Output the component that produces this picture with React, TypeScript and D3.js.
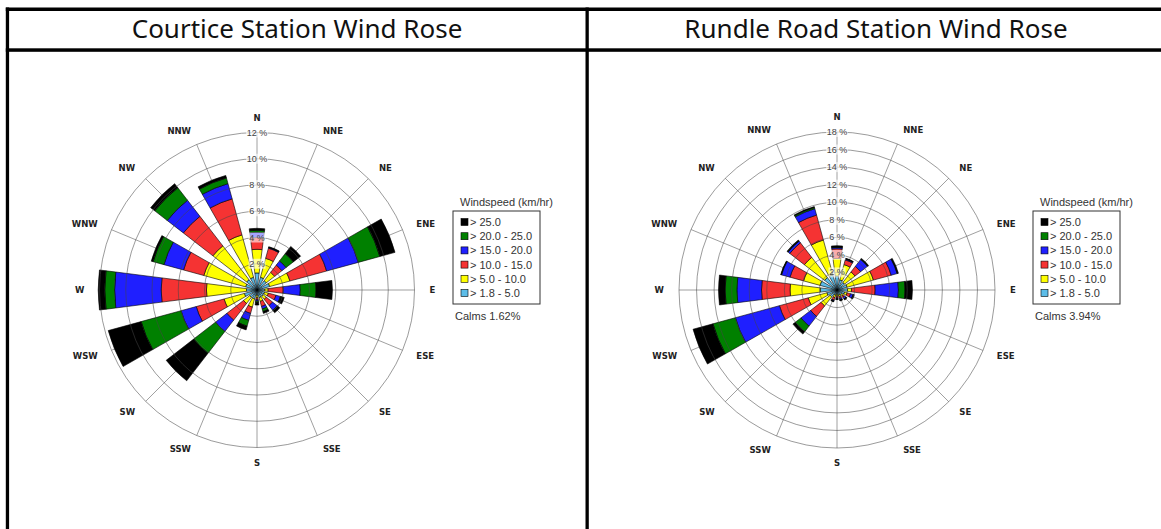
import React from "react";
import * as d3 from "d3";

const directions = ["N", "NNE", "NE", "ENE", "E", "ESE", "SE", "SSE", "S", "SSW", "SW", "WSW", "W", "WNW", "NW", "NNW"];
const speedBins = ["> 1.8 - 5.0", "> 5.0 - 10.0", "> 10.0 - 15.0", "> 15.0 - 20.0", "> 20.0 - 25.0", "> 25.0"];
const binColors = ["#5dbde8", "#ffff00", "#f53333", "#1f1fff", "#008000", "#000000"];

// Courtice station: frequency (%) per direction for each speed bin
const courtice_1_8_5 = [1.3, 1.0, 0.9, 1.0, 0.6, 0.6, 0.6, 0.6, 0.4, 0.7, 0.7, 1.0, 0.8, 0.9, 1.0, 1.0];
const courtice_5_10 = [1.8, 1.5, 0.8, 1.6, 0.25, 0.3, 0.3, 0.3, 0.2, 0.65, 0.6, 1.6, 3.05, 3.3, 3.25, 3.35];
const courtice_10_15 = [0.9, 0.8, 0.7, 2.9, 1.15, 0.6, 0.6, 0.4, 0.15, 0.5, 1.6, 2.2, 3.45, 1.6, 2.85, 2.85];
const courtice_15_20 = [0.4, 0.05, 0.4, 2.5, 1.3, 0.35, 0.45, 0.2, 0.1, 0.55, 1.1, 1.2, 3.55, 1.55, 1.55, 1.2];
const courtice_20_25 = [0.15, 0.02, 0.7, 1.7, 1.2, 0.05, 0.05, 0.2, 0.1, 0.45, 2.1, 3.15, 0.75, 0.85, 1.2, 0.45];
const courtice_25 = [0.15, 0.05, 0.7, 1.2, 1.25, 0.25, 0.2, 0.15, 0.2, 0.3, 2.65, 2.6, 0.5, 0.15, 0.4, 0.2];

// Rundle Road station
const rundle_1_8_5 = [1.6, 1.2, 1.1, 1.2, 1.2, 0.9, 0.7, 0.6, 0.5, 0.6, 1.0, 1.2, 1.9, 2.0, 1.8, 1.8];
const rundle_5_10 = [2.0, 1.8, 1.5, 3.1, 0.45, 0.3, 0.2, 0.2, 0.2, 0.3, 1.3, 2.2, 3.45, 1.95, 2.9, 4.1];
const rundle_10_15 = [1.1, 0.55, 0.8, 2.1, 2.7, 0.4, 0.2, 0.2, 0.2, 0.3, 1.5, 3.4, 3.25, 1.6, 2.1, 2.95];
const rundle_15_20 = [0.15, 0.1, 1.0, 0.7, 2.65, 0.3, 0.2, 0.15, 0.1, 0.1, 1.4, 5.2, 2.8, 1.0, 0.25, 0.75];
const rundle_20_25 = [0.05, 0.05, 0.05, 0.05, 0.75, 0.05, 0.05, 0.05, 0.05, 0.05, 0.8, 2.65, 1.35, 0.05, 0.05, 0.15];
const rundle_25 = [0.15, 0.05, 0.1, 0.1, 0.85, 0.1, 0.1, 0.1, 0.05, 0.05, 0.35, 2.35, 0.75, 0.05, 0.1, 0.1];

const courticeRings = [2, 4, 6, 8, 10, 12];
const rundleRings = [2, 4, 6, 8, 10, 12, 14, 16, 18];

const stationTitles = ["Courtice Station Wind Rose", "Rundle Road Station Wind Rose"];
const calmsLabels = ["Calms 1.62%", "Calms 3.94%"];
const legendTitle = "Windspeed (km/hr)";

const courticeSeries = [courtice_1_8_5, courtice_5_10, courtice_10_15, courtice_15_20, courtice_20_25, courtice_25];
const rundleSeries = [rundle_1_8_5, rundle_5_10, rundle_10_15, rundle_15_20, rundle_20_25, rundle_25];

const SMALL_FONT = "'Liberation Sans', Arial, sans-serif";
const COMPASS_FONT = "'DejaVu Sans', Verdana, sans-serif";

function WindRose({ cx, cy, radius, series, rings }: { cx: number; cy: number; radius: number; series: number[][]; rings: number[] }) {
  const maxV = rings[rings.length - 1];
  const r = d3.scaleLinear().domain([0, maxV]).range([0, radius]);
  const angle = d3.scaleLinear().domain([0, directions.length]).range([0, 2 * Math.PI]);
  const halfW = ((14.5 / 2) * Math.PI) / 180;

  const rows = directions.map((d, i) => {
    const row: any = { dir: d };
    speedBins.forEach((b, k) => (row[b] = series[k][i]));
    return row;
  });
  const stacked = d3.stack<any>().keys(speedBins)(rows);
  const arc = d3.arc<any>();

  return (
    <g transform={`translate(${cx},${cy})`}>
      {directions.map((d, i) => {
        const a = angle(i);
        return (
          <line key={"sp" + d} x1={0} y1={0} x2={radius * Math.sin(a)} y2={-radius * Math.cos(a)} stroke="#959595" strokeWidth={0.9} />
        );
      })}
      {stacked.map((layer, k) =>
        layer.map((seg, i) => {
          const a = angle(i);
          const path = arc({
            innerRadius: r(seg[0]),
            outerRadius: r(seg[1]),
            startAngle: a - halfW,
            endAngle: a + halfW,
          });
          return <path key={`b${k}-${i}`} d={path || ""} fill={binColors[k]} stroke="#000" strokeWidth={0.6} />;
        })
      )}
      {rings.map((v) => (
        <circle key={"rg" + v} r={r(v)} fill="none" stroke="#444" strokeOpacity={0.6} strokeWidth={0.9} />
      ))}
      {rings.map((v) => {
        const label = `${v} %`;
        const w = label.length * 5 + 2;
        return (
          <g key={"rl" + v} transform={`translate(0,${-r(v)})`}>
            <rect x={-w / 2} y={-5} width={w} height={10} fill="#fff" fillOpacity={0.6} />
            <text textAnchor="middle" dominantBaseline="central" fontFamily={SMALL_FONT} fontSize={9} fill="#444">
              {label}
            </text>
          </g>
        );
      })}
      {directions.map((d, i) => {
        const a = angle(i);
        const rr = radius + 15;
        const s = Math.sin(a);
        const anchor = s > 0.01 ? "start" : s < -0.01 ? "end" : "middle";
        return (
          <text
            key={"cl" + d}
            x={rr * s}
            y={-rr * Math.cos(a)}
            textAnchor={anchor}
            dominantBaseline="central"
            fontFamily={COMPASS_FONT}
            fontWeight="bold"
            fontSize={8.5}
            fill="#222"
          >
            {d}
          </text>
        );
      })}
    </g>
  );
}

function Legend({ x, y, calms }: { x: number; y: number; calms: string }) {
  const order = speedBins.map((b, k) => ({ b, k })).reverse();
  return (
    <g transform={`translate(${x},${y})`} fontFamily={SMALL_FONT} fontSize={11}>
      <text x={7} y={-5} fill="#333">
        {legendTitle}
      </text>
      <rect x={0} y={0} width={87} height={93} fill="#fff" stroke="#333" strokeWidth={1} />
      {order.map(({ b, k }, j) => (
        <g key={b} transform={`translate(0,${11 + j * 14.2})`}>
          <rect x={8} y={-3.5} width={7} height={7} fill={binColors[k]} stroke="#000" strokeWidth={0.6} />
          <text x={17} y={0} dominantBaseline="central" fill="#333">
            {b}
          </text>
        </g>
      ))}
      <text x={2} y={105} dominantBaseline="central" fill="#333">
        {calms}
      </text>
    </g>
  );
}

export default function App() {
  const W = 1161;
  const H = 529;
  return (
    <div style={{ position: "absolute", left: 0, top: 0 }}>
      <svg width={W} height={H} viewBox={`0 0 ${W} ${H}`} style={{ display: "block", background: "#fff" }}>
        <rect x={0} y={0} width={W} height={H} fill="#fff" />
        {/* table borders */}
        <rect x={5.8} y={7.5} width={W - 5.8} height={3.5} fill="#000" />
        <rect x={5.8} y={48.3} width={W - 5.8} height={3.5} fill="#000" />
        <rect x={5.8} y={7.5} width={3.3} height={H - 7.5} fill="#000" />
        <rect x={585.5} y={7.5} width={3.3} height={H - 7.5} fill="#000" />
        <text x={297} y={38} textAnchor="middle" fontFamily="'Noto Sans', sans-serif" fontSize={26} fill="#111">
          {stationTitles[0]}
        </text>
        <text x={876} y={38} textAnchor="middle" fontFamily="'Noto Sans', sans-serif" fontSize={26} fill="#111">
          {stationTitles[1]}
        </text>
        <WindRose cx={257} cy={290} radius={157.5} series={courticeSeries} rings={courticeRings} />
        <WindRose cx={837} cy={290} radius={158} series={rundleSeries} rings={rundleRings} />
        <Legend x={453} y={211} calms={calmsLabels[0]} />
        <Legend x={1033} y={211} calms={calmsLabels[1]} />
      </svg>
    </div>
  );
}
